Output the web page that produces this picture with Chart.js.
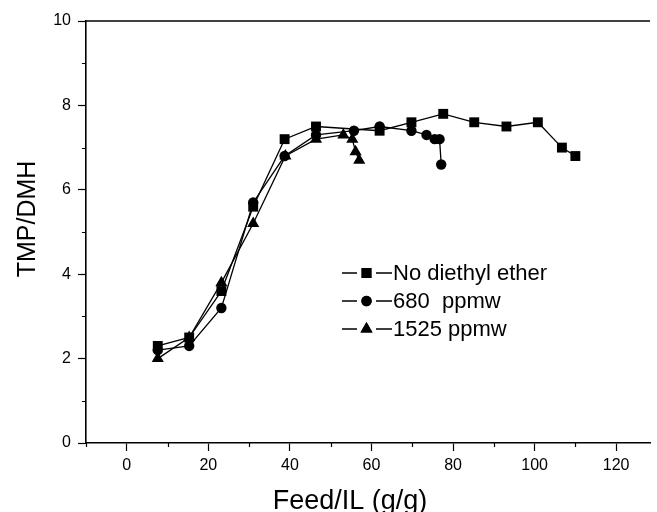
<!DOCTYPE html>
<html>
<head>
<meta charset="utf-8">
<script src="https://cdn.jsdelivr.net/npm/chart.js@4/dist/chart.umd.min.js"></script>
<style>
  html, body { margin: 0; padding: 0; background: #fff; }
  #wrap { width: 657px; height: 512px; }
</style>
</head>
<body>
<div id="wrap"><canvas id="chart" width="657" height="512"></canvas></div>
<script>
// values
const seriesNames = ['No diethyl ether', '680  ppmw', '1525 ppmw'];

const noEtherX = [7.6, 15.3, 23.2, 31.0, 38.7, 46.4, 62.0, 69.8, 77.6, 85.2, 93.1, 100.8, 106.7, 110.0];
const noEtherY = [2.3, 2.5, 3.6, 5.6, 7.2, 7.5, 7.4, 7.6, 7.8, 7.6, 7.5, 7.6, 7.0, 6.8];

const ppm680X = [7.6, 15.3, 23.2, 31.0, 38.7, 46.4, 55.7, 62.0, 69.8, 73.5, 75.5, 76.7, 77.1];
const ppm680Y = [2.2, 2.3, 3.2, 5.7, 6.8, 7.3, 7.4, 7.5, 7.4, 7.3, 7.2, 7.2, 6.6];

const ppm1525X = [7.6, 15.3, 23.2, 31.0, 38.9, 46.4, 53.1, 55.3, 56.1, 57.0];
const ppm1525Y = [2.0, 2.5, 3.8, 5.2, 6.8, 7.2, 7.3, 7.2, 6.9, 6.7];

const xTicks = [0, 20, 40, 60, 80, 100, 120];
const yTicks = [0, 2, 4, 6, 8, 10];

const FONT = 'Arial, "Liberation Sans", sans-serif';

function pts(xs, ys) {
    return xs.map((x, i) => ({ x: x, y: ys[i] }));
}

function makeSet(label, xs, ys, style, radius) {
    return {
        label: label,
        data: pts(xs, ys),
        showLine: true,
        borderColor: '#000',
        borderWidth: 1.3,
        backgroundColor: '#000',
        pointStyle: style,
        pointRadius: radius,
        pointBorderWidth: 0,
        pointBackgroundColor: '#000',
        tension: 0
    };
}

// minor ticks, top frame, axis titles and the legend
const decorations = {
    id: 'decorations',
    afterDraw(chart) {
        const ctx = chart.ctx;
        const xs = chart.scales.x;
        const ys = chart.scales.y;
        const area = chart.chartArea;
        ctx.save();
        ctx.strokeStyle = '#000';
        ctx.lineWidth = 1.2;

        // minor ticks
        ctx.beginPath();
        for (let v = -10; v <= 120; v += 20) {
            const px = Math.round(xs.getPixelForValue(v)) + 0.5;
            ctx.moveTo(px, area.bottom);
            ctx.lineTo(px, area.bottom + 4);
        }
        for (let v = 1; v < 10; v += 2) {
            const py = Math.round(ys.getPixelForValue(v)) + 0.5;
            ctx.moveTo(area.left, py);
            ctx.lineTo(area.left - 4, py);
        }
        ctx.stroke();

        // top frame line
        ctx.lineWidth = 1.6;
        ctx.beginPath();
        ctx.moveTo(area.left, area.top);
        ctx.lineTo(area.right, area.top);
        ctx.stroke();

        // axis titles
        ctx.fillStyle = '#000';
        ctx.font = '27px ' + FONT;
        ctx.textAlign = 'center';
        ctx.textBaseline = 'alphabetic';
        ctx.fillText('Feed/IL (g/g)', 350, 509);

        ctx.save();
        ctx.translate(35, 219);
        ctx.rotate(-Math.PI / 2);
        ctx.font = '25px ' + FONT;
        ctx.fillText('TMP/DMH', 0, 0);
        ctx.restore();

        // legend
        const rows = [273, 301, 329];
        ctx.font = '22px ' + FONT;
        ctx.textAlign = 'left';
        ctx.textBaseline = 'middle';
        chart.data.datasets.forEach((ds, i) => {
            const y = rows[i];
            ctx.lineWidth = 1.3;
            ctx.beginPath();
            ctx.moveTo(342, y);
            ctx.lineTo(357, y);
            ctx.moveTo(376, y);
            ctx.lineTo(392, y);
            ctx.stroke();
            Chart.helpers.drawPoint(ctx, {
                pointStyle: ds.pointStyle,
                radius: ds.pointRadius,
                rotation: 0,
                borderWidth: 0
            }, 366.5, y);
            ctx.fill();
            ctx.fillText(ds.label, 393, y + 1);
        });
        ctx.restore();
    }
};

const ctx = document.getElementById('chart').getContext('2d');
new Chart(ctx, {
    type: 'scatter',
    data: {
        datasets: [
            makeSet(seriesNames[0], noEtherX, noEtherY, 'rect', 7),
            makeSet(seriesNames[1], ppm680X, ppm680Y, 'circle', 5.2),
            makeSet(seriesNames[2], ppm1525X, ppm1525Y, 'triangle', 7)
        ]
    },
    options: {
        responsive: false,
        animation: false,
        layout: { padding: { top: 21, right: 0, left: 0, bottom: 0 } },
        plugins: {
            legend: { display: false },
            tooltip: { enabled: false }
        },
        scales: {
            x: {
                type: 'linear',
                min: -10,
                max: 128.3,
                afterFit(scale) { scale.height = 69; },
                afterBuildTicks(scale) { scale.ticks = xTicks.map(v => ({ value: v })); },
                ticks: {
                    includeBounds: false,
                    stepSize: 20,
                    color: '#000',
                    padding: 5,
                    maxRotation: 0,
                    font: { family: FONT, size: 16 }
                },
                grid: {
                    drawOnChartArea: false,
                    drawTicks: true,
                    tickLength: 8,
                    tickWidth: 1.2,
                    tickColor: '#000'
                },
                border: { color: '#000', width: 1.6 }
            },
            y: {
                type: 'linear',
                min: 0,
                max: 10,
                afterFit(scale) { scale.width = 86; },
                afterBuildTicks(scale) { scale.ticks = yTicks.map(v => ({ value: v })); },
                ticks: {
                    stepSize: 2,
                    color: '#000',
                    padding: 7,
                    font: { family: FONT, size: 16 }
                },
                grid: {
                    drawOnChartArea: false,
                    drawTicks: true,
                    tickLength: 8,
                    tickWidth: 1.2,
                    tickColor: '#000'
                },
                border: { color: '#000', width: 1.6 }
            }
        }
    },
    plugins: [decorations]
});
</script>
</body>
</html>
